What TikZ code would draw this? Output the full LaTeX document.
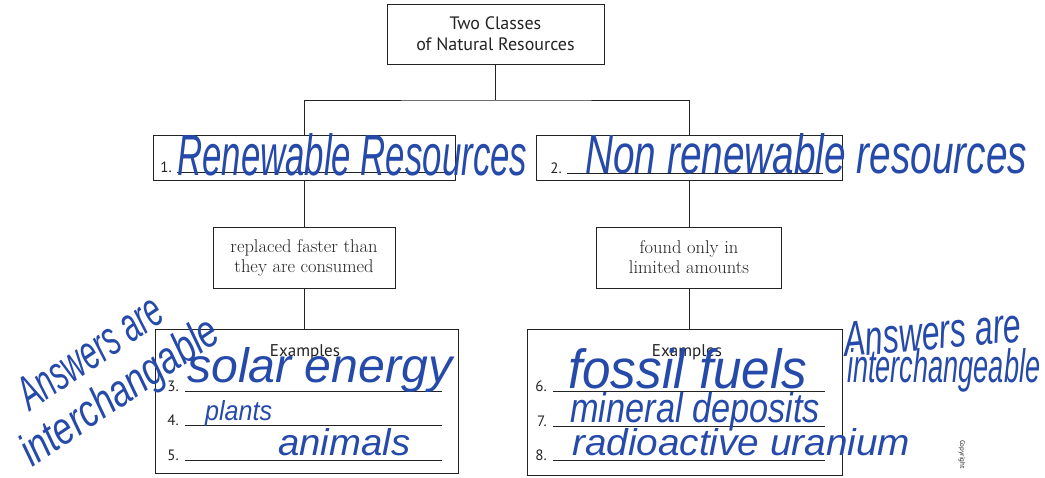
\documentclass[tikz,border=0pt]{standalone}
\usepackage{fontspec}
\usepackage{graphicx}
\setsansfont{PT Sans}
\newfontfamily\penfont{Liberation Sans}

\definecolor{penna}{RGB}{38,74,170}
\definecolor{stampa}{RGB}{35,35,35}

% scritta a mano: larghezza, altezza, testo
\newcommand{\amano}[3]{\resizebox{#1pt}{#2pt}{\penfont\itshape #3}}

\tikzset{
  riquadro/.style={draw=stampa, line width=0.9pt, inner sep=0pt},
  titolo/.style={riquadro, align=center, font=\sffamily\fontsize{18}{21}\selectfont, text=stampa},
  descrizione/.style={riquadro, align=center, font=\fontsize{18.5}{20}\selectfont, text=stampa},
  numero/.style={anchor=base east, inner sep=0pt, font=\sffamily\fontsize{15}{15}\selectfont, text=stampa},
  esempi/.style={anchor=base, inner sep=0pt, font=\sffamily\fontsize{17}{17}\selectfont, text=stampa},
  riga/.style={draw=stampa, line width=0.6pt},
  ramo/.style={draw=stampa, line width=0.9pt},
  penna/.style={anchor=base west, inner sep=0pt, text=penna},
}

\begin{document}
\begin{tikzpicture}[x=1pt,y=-1pt]
\useasboundingbox[fill=white] (0,0) rectangle (1045,477);

% Riquadro principale
\node[titolo, minimum width=217pt, minimum height=60pt] (classi) at (495.5,34) {Two Classes\\of Natural Resources};

% Le due classi
\node[riquadro, minimum width=302pt, minimum height=45pt] (rinnov) at (304,157.5) {};
\node[riquadro, minimum width=306pt, minimum height=45pt] (nonrinnov) at (689,157.5) {};

% Definizioni
\node[descrizione, minimum width=182pt, minimum height=61pt] (defrinnov) at (304,257.5) {replaced faster than\\they are consumed};
\node[descrizione, minimum width=185pt, minimum height=61pt] (defnonrinnov) at (689,257.5) {found only in\\limited amounts};

% Esempi
\node[riquadro, minimum width=303pt, minimum height=144pt] (esrinnov) at (306.5,401) {};
\node[riquadro, minimum width=315pt, minimum height=146pt] (esnonrinnov) at (684.5,402) {};
\node[esempi] (titrinnov) at (305,356) {Examples};
\node[esempi] (titnonrinnov) at (687,356) {Examples};

% Collegamenti
\coordinate (bivio) at (495.5,100);
\draw[ramo] (classi) -- (bivio);
\draw[ramo] (rinnov) |- (bivio) -| (nonrinnov);
\draw[ramo] (rinnov) -- (defrinnov);
\draw[ramo] (nonrinnov) -- (defnonrinnov);
\draw[ramo] (defrinnov.south) -- (defrinnov.south |- esrinnov.north);
\draw[ramo] (defnonrinnov.south) -- (defnonrinnov.south |- esnonrinnov.north);

% Righe numerate
\node[numero] (n1) at (172,172) {1.};
\draw[riga] ([xshift=5pt]n1.base east) -- (450,172);
\node[numero] (n2) at (562,173) {2.};
\draw[riga] ([xshift=5pt]n2.base east) -- (823,173);
\foreach \n/\y in {3/391,4/425,5/460} {
  \node[numero] (n\n) at (179,\y) {\n.};
  \draw[riga] ([xshift=6pt]n\n.base east) -- (442,\y);
}
\foreach \n/\y in {6/391,7/426,8/460} {
  \node[numero] (n\n) at (547,\y) {\n.};
  \draw[riga] ([xshift=6pt]n\n.base east) -- (825,\y);
}

% Risposte a mano
\node[penna] (h1) at (177,175) {\amano{350}{42}{Renewable Resources}};
\node[penna] (h2) at (585,173) {\amano{442}{40}{Non renewable resources}};
\node[penna] (h3) at (187,382) {\amano{265}{35}{solar energy}};
\node[penna] (h4) at (205,420) {\amano{67}{20}{plants}};
\node[penna] (h5) at (278,455) {\amano{132}{27}{animals}};
\node[penna] (h6) at (568,388) {\amano{239}{40}{fossil fuels}};
\node[penna] (h7) at (570,422) {\amano{250}{30}{mineral deposits}};
\node[penna] (h8) at (572,455) {\amano{338}{27}{radioactive uranium}};
\node[penna, rotate=34] (h9) at (30,412) {\amano{165}{33}{Answers are}};
\node[penna, rotate=34] (h10) at (32,468) {\amano{230}{33}{interchangable}};
\node[penna, rotate=5] (h11) at (845,357) {\amano{178}{34}{Answers are}};
\node[penna] (h12) at (847,382) {\amano{193}{34}{interchangeable}};

% Margine
\node[font=\sffamily\fontsize{7}{7}\selectfont, rotate=-90, anchor=base west, inner sep=0pt, text=stampa] (copia) at (960,440) {Copyright};

\end{tikzpicture}
\end{document}
